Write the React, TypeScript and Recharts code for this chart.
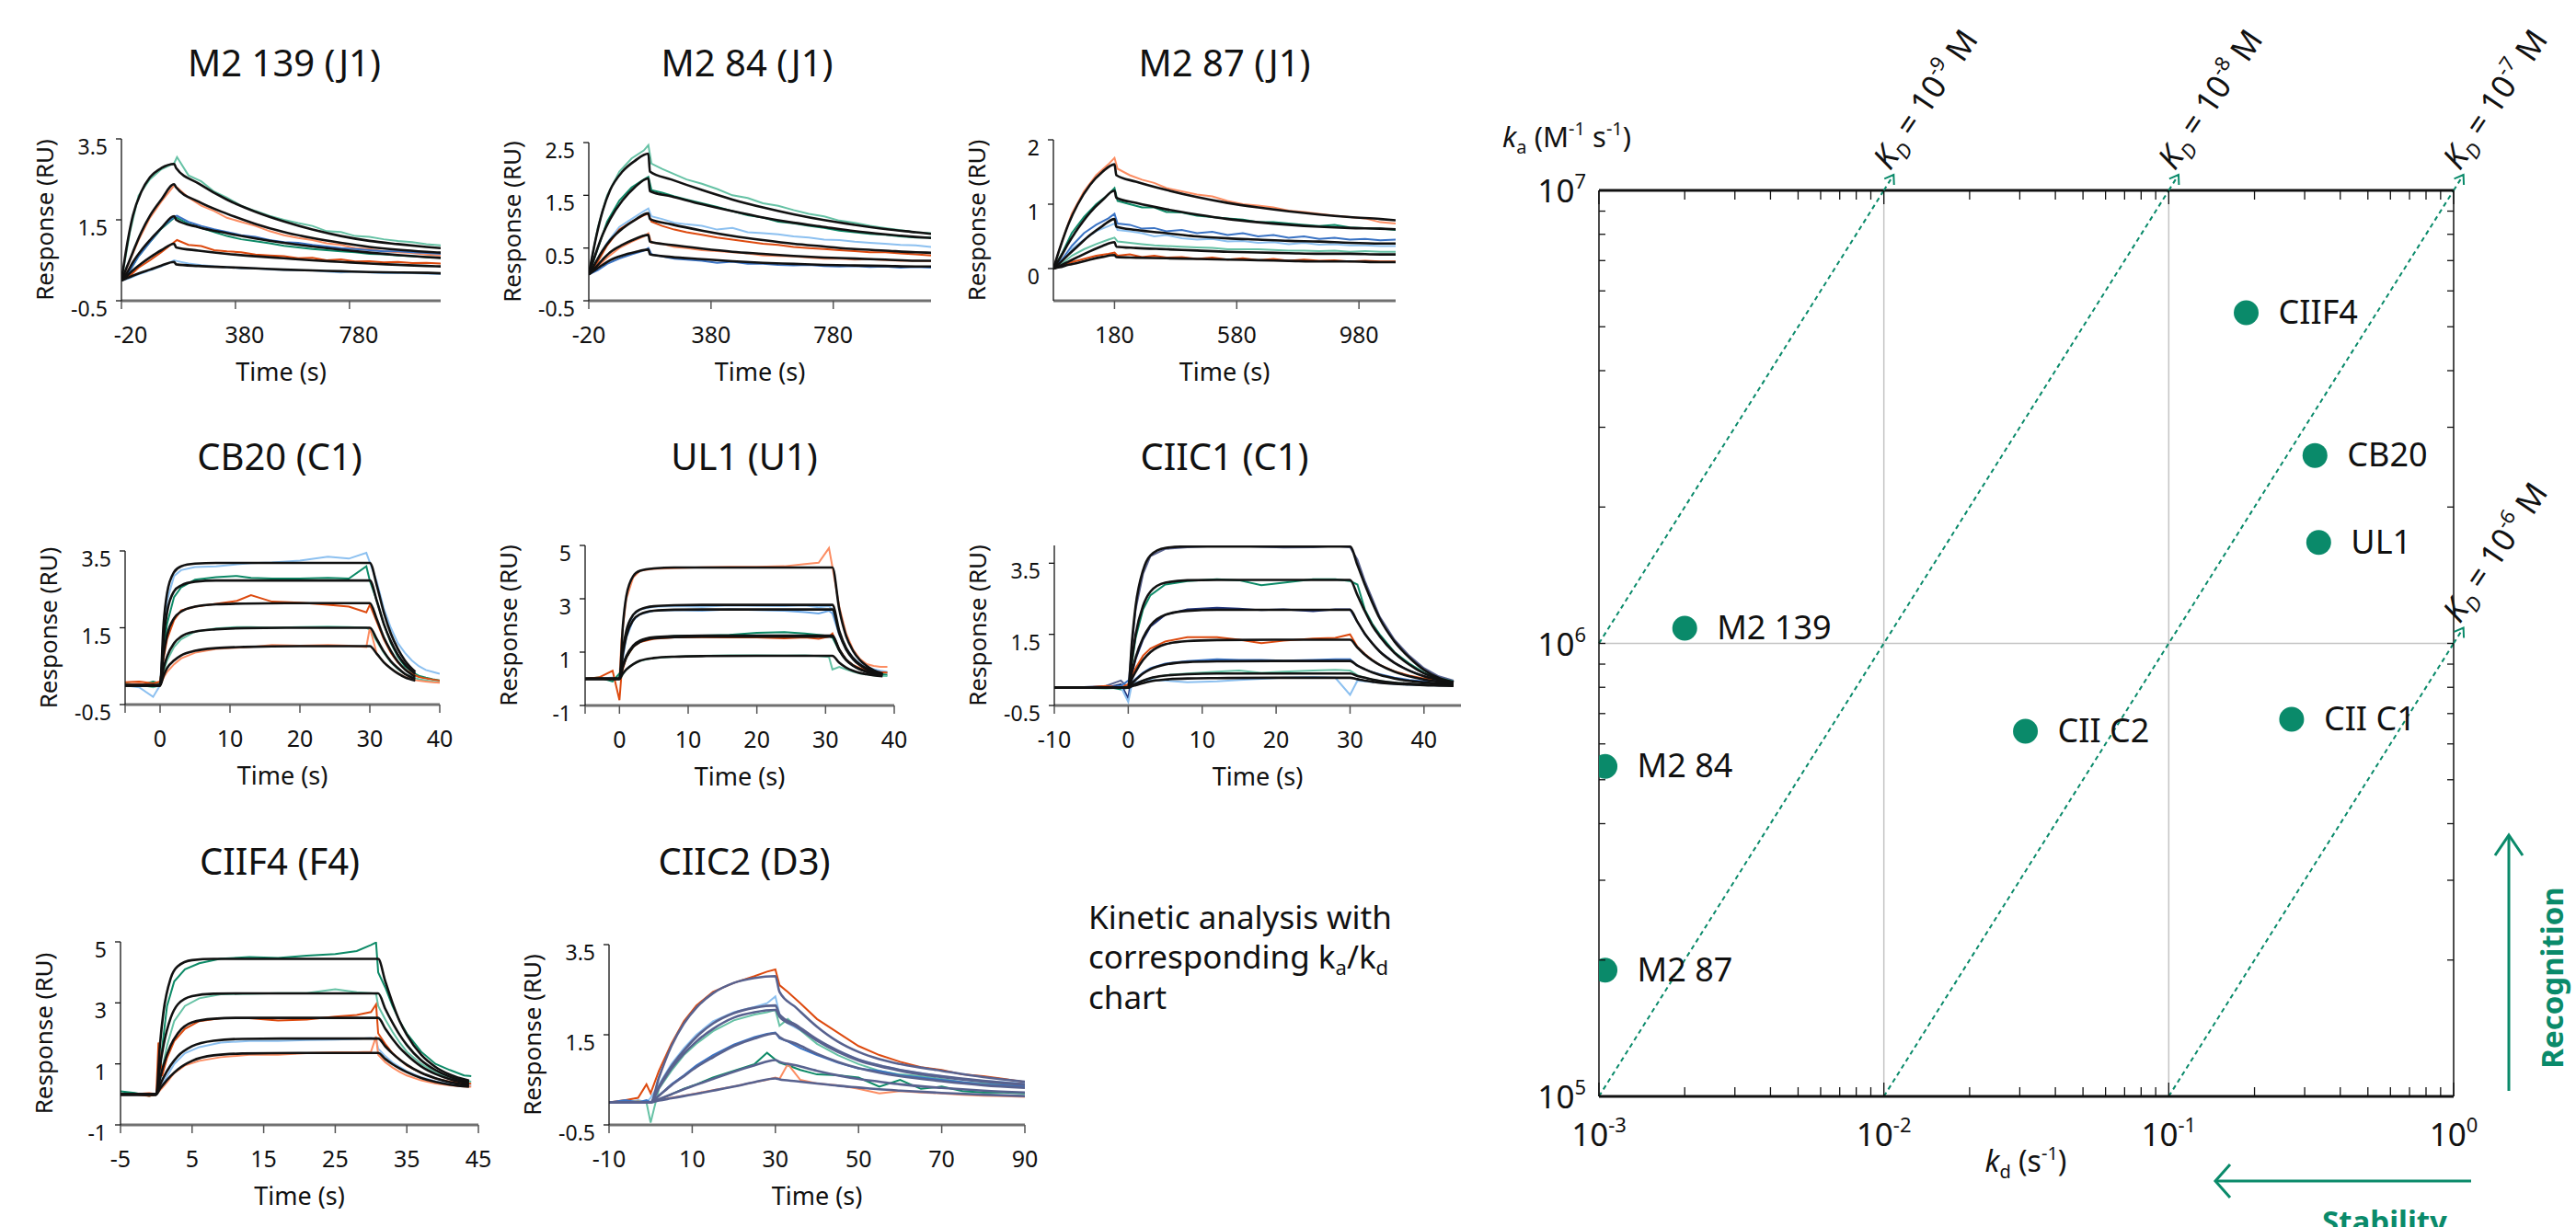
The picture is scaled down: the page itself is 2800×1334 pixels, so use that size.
import React from 'react';
import { LineChart, Line, XAxis, YAxis, ScatterChart, Scatter, ReferenceLine, ReferenceDot } from 'recharts';

const FONT = "'Noto Sans', sans-serif";
const INK = '#111';
const KGREEN = '#0a8a6a';
const TEAL = '#66c2a5';
const SALMON = '#fc8d62';
const BLUE = '#3a73c4';
const GREEN = '#0d8a67';
const ORANGE = '#dd4a0f';
const LIGHTBLUE = '#8cc0f0';
const SLATE = '#58628f';
const NAVY = '#22357a';

// ---------- M2 139 (J1)
const m2139FitTime = [-20, 0, 20, 50, 80, 120, 165, 172, 250, 350, 450, 550, 650, 750, 850, 950, 1050, 1100];
const m2139Fits = [
  [0, 0.9, 1.6, 2.2, 2.55, 2.78, 2.88, 2.78, 2.4, 2.0, 1.7, 1.46, 1.26, 1.1, 0.98, 0.9, 0.83, 0.8],
  [0, 0.35, 0.7, 1.2, 1.6, 2.0, 2.38, 2.3, 1.95, 1.65, 1.4, 1.2, 1.05, 0.93, 0.83, 0.76, 0.71, 0.69],
  [0, 0.2, 0.45, 0.75, 1.0, 1.3, 1.59, 1.5, 1.32, 1.17, 1.04, 0.93, 0.84, 0.76, 0.69, 0.63, 0.58, 0.56],
  [0, 0.12, 0.25, 0.42, 0.57, 0.75, 0.91, 0.82, 0.74, 0.66, 0.6, 0.55, 0.5, 0.46, 0.42, 0.39, 0.36, 0.35],
  [0, 0.06, 0.12, 0.2, 0.27, 0.37, 0.46, 0.4, 0.36, 0.33, 0.3, 0.27, 0.25, 0.23, 0.21, 0.2, 0.19, 0.18],
];
const m2139ObsTime = [-20, 10, 40, 80, 120, 165, 175, 215, 260, 305, 350, 400, 450, 500, 550, 600, 650, 700, 750, 800, 850, 900, 950, 1000, 1050, 1100];
const m2139Teal = [0, 1.2, 2.1, 2.5, 2.75, 2.9, 3.05, 2.6, 2.45, 2.2, 2.05, 1.85, 1.72, 1.6, 1.5, 1.42, 1.35, 1.22, 1.2, 1.1, 1.08, 1.02, 0.98, 0.95, 0.9, 0.87];
const m2139Salmon = [0, 0.5, 1.0, 1.55, 1.95, 2.35, 2.3, 2.05, 1.85, 1.72, 1.55, 1.45, 1.35, 1.22, 1.12, 1.05, 1.0, 0.92, 0.88, 0.8, 0.78, 0.72, 0.7, 0.68, 0.64, 0.62];
const m2139Blue = [0, 0.25, 0.6, 0.95, 1.3, 1.58, 1.6, 1.45, 1.35, 1.27, 1.2, 1.12, 1.08, 1.0, 0.95, 0.93, 0.88, 0.84, 0.8, 0.78, 0.75, 0.72, 0.72, 0.7, 0.68, 0.66];
const m2139Green = [0, 0.25, 0.6, 0.95, 1.28, 1.55, 1.55, 1.4, 1.3, 1.2, 1.1, 1.02, 0.97, 0.92, 0.86, 0.82, 0.78, 0.75, 0.72, 0.7, 0.66, 0.65, 0.62, 0.6, 0.58, 0.56];
const m2139Orange = [0, 0.12, 0.32, 0.5, 0.7, 0.95, 1.0, 0.88, 0.85, 0.75, 0.72, 0.7, 0.64, 0.62, 0.6, 0.55, 0.56, 0.5, 0.52, 0.47, 0.48, 0.45, 0.46, 0.43, 0.44, 0.42];
const m2139LightBlue = [0, 0.06, 0.15, 0.25, 0.35, 0.5, 0.48, 0.42, 0.38, 0.35, 0.33, 0.3, 0.3, 0.27, 0.26, 0.25, 0.25, 0.22, 0.2, 0.22, 0.2, 0.18, 0.19, 0.18, 0.17, 0.16];

// ---------- M2 84 (J1)
const m284FitTime = [-20, 0, 25, 50, 90, 130, 175, 180, 250, 350, 450, 550, 650, 750, 850, 950, 1050, 1100];
const m284Fits = [
  [0, 0.6, 1.2, 1.6, 1.95, 2.15, 2.29, 1.95, 1.8, 1.6, 1.42, 1.27, 1.14, 1.03, 0.94, 0.86, 0.8, 0.77],
  [0, 0.35, 0.75, 1.05, 1.4, 1.65, 1.82, 1.58, 1.48, 1.33, 1.2, 1.08, 0.98, 0.9, 0.82, 0.76, 0.71, 0.69],
  [0, 0.2, 0.45, 0.65, 0.87, 1.03, 1.16, 1.05, 0.95, 0.83, 0.73, 0.65, 0.58, 0.53, 0.48, 0.45, 0.42, 0.41],
  [0, 0.12, 0.28, 0.42, 0.56, 0.67, 0.75, 0.62, 0.56, 0.49, 0.43, 0.39, 0.35, 0.32, 0.3, 0.28, 0.26, 0.26],
  [0, 0.08, 0.18, 0.27, 0.36, 0.42, 0.47, 0.38, 0.33, 0.29, 0.25, 0.22, 0.2, 0.18, 0.17, 0.16, 0.15, 0.15],
];
const m284ObsTime = [-20, 10, 40, 80, 120, 160, 175, 185, 220, 260, 300, 350, 400, 450, 500, 550, 600, 650, 700, 750, 800, 850, 900, 950, 1000, 1050, 1100];
const m284Teal = [0, 0.9, 1.5, 1.95, 2.2, 2.35, 2.45, 2.1, 2.0, 1.9, 1.8, 1.72, 1.62, 1.5, 1.45, 1.35, 1.3, 1.22, 1.15, 1.1, 1.02, 0.98, 0.92, 0.88, 0.84, 0.8, 0.78];
const m284Green = [0, 0.5, 1.0, 1.4, 1.65, 1.8, 1.85, 1.6, 1.55, 1.48, 1.42, 1.35, 1.28, 1.2, 1.12, 1.08, 1.0, 0.97, 0.92, 0.88, 0.83, 0.8, 0.77, 0.75, 0.72, 0.7, 0.7];
const m284LightBlue = [0, 0.3, 0.6, 0.9, 1.05, 1.2, 1.25, 1.1, 1.05, 0.98, 0.95, 0.92, 0.85, 0.88, 0.8, 0.78, 0.76, 0.72, 0.7, 0.66, 0.65, 0.62, 0.6, 0.58, 0.56, 0.55, 0.52];
const m284Orange = [0, 0.25, 0.55, 0.85, 1.0, 1.12, 1.15, 1.0, 0.92, 0.85, 0.8, 0.75, 0.7, 0.66, 0.62, 0.58, 0.56, 0.52, 0.5, 0.48, 0.46, 0.44, 0.42, 0.42, 0.4, 0.38, 0.36];
const m284Salmon = [0, 0.15, 0.32, 0.5, 0.62, 0.72, 0.78, 0.6, 0.58, 0.52, 0.5, 0.46, 0.44, 0.42, 0.4, 0.36, 0.35, 0.34, 0.32, 0.3, 0.3, 0.28, 0.29, 0.27, 0.26, 0.26, 0.25];
const m284Blue = [0, 0.08, 0.2, 0.3, 0.38, 0.45, 0.5, 0.38, 0.34, 0.3, 0.28, 0.26, 0.22, 0.24, 0.2, 0.2, 0.18, 0.17, 0.18, 0.16, 0.15, 0.16, 0.14, 0.15, 0.13, 0.14, 0.13];

// ---------- M2 87 (J1)
const m287FitTime = [-20, 0, 30, 60, 100, 140, 180, 186, 250, 350, 450, 550, 650, 750, 850, 950, 1050, 1100];
const m287Fits = [
  [0, 0.3, 0.7, 1.0, 1.3, 1.5, 1.62, 1.45, 1.35, 1.22, 1.11, 1.02, 0.95, 0.89, 0.84, 0.8, 0.77, 0.75],
  [0, 0.15, 0.4, 0.62, 0.87, 1.06, 1.21, 1.1, 1.02, 0.92, 0.84, 0.77, 0.72, 0.68, 0.65, 0.63, 0.62, 0.61],
  [0, 0.08, 0.22, 0.35, 0.52, 0.66, 0.77, 0.65, 0.6, 0.55, 0.5, 0.47, 0.45, 0.43, 0.42, 0.4, 0.39, 0.39],
  [0, 0.04, 0.11, 0.18, 0.27, 0.35, 0.41, 0.34, 0.32, 0.3, 0.28, 0.26, 0.25, 0.24, 0.23, 0.23, 0.22, 0.22],
  [0, 0.02, 0.06, 0.09, 0.14, 0.18, 0.21, 0.18, 0.17, 0.16, 0.15, 0.14, 0.13, 0.12, 0.11, 0.11, 0.1, 0.1],
];
const m287ObsTime = [-20, 10, 40, 80, 120, 160, 180, 190, 230, 270, 310, 350, 400, 450, 500, 550, 600, 650, 700, 750, 800, 850, 900, 950, 1000, 1050, 1100];
const m287Salmon = [0, 0.45, 0.85, 1.2, 1.45, 1.62, 1.72, 1.55, 1.45, 1.38, 1.33, 1.25, 1.2, 1.15, 1.12, 1.05, 1.0, 0.98, 0.95, 0.9, 0.88, 0.85, 0.82, 0.8, 0.78, 0.72, 0.7];
const m287Green = [0, 0.25, 0.55, 0.8, 1.0, 1.15, 1.25, 1.05, 1.0, 0.95, 0.95, 0.88, 0.87, 0.82, 0.8, 0.78, 0.76, 0.72, 0.72, 0.7, 0.68, 0.66, 0.68, 0.64, 0.63, 0.62, 0.6];
const m287Blue = [0, 0.15, 0.35, 0.55, 0.68, 0.78, 0.85, 0.7, 0.68, 0.62, 0.63, 0.58, 0.6, 0.55, 0.57, 0.52, 0.55, 0.5, 0.52, 0.48, 0.5, 0.46, 0.48, 0.45, 0.46, 0.44, 0.45];
const m287LightBlue = [0, 0.12, 0.3, 0.45, 0.58, 0.66, 0.7, 0.6, 0.58, 0.55, 0.5, 0.52, 0.47, 0.45, 0.46, 0.42, 0.43, 0.4, 0.41, 0.38, 0.4, 0.37, 0.38, 0.36, 0.36, 0.35, 0.35];
const m287Teal = [0, 0.08, 0.2, 0.3, 0.38, 0.45, 0.48, 0.42, 0.4, 0.38, 0.36, 0.35, 0.34, 0.33, 0.32, 0.3, 0.3, 0.3, 0.29, 0.28, 0.28, 0.27, 0.28, 0.26, 0.27, 0.26, 0.26];
const m287Orange = [0, 0.04, 0.1, 0.15, 0.2, 0.23, 0.25, 0.2, 0.22, 0.18, 0.2, 0.17, 0.18, 0.15, 0.17, 0.14, 0.16, 0.13, 0.15, 0.12, 0.14, 0.12, 0.13, 0.11, 0.12, 0.11, 0.11];

// ---------- CB20 (C1)
const cb20FitTime = [-5, 0, 0.5, 1, 2, 3, 5, 8, 12, 20, 30, 31, 32, 33, 34, 35, 36.5];
const cb20Fits = [
  [0, 0, 1.6, 2.4, 2.95, 3.1, 3.17, 3.19, 3.19, 3.19, 3.19, 2.6, 1.9, 1.35, 0.95, 0.65, 0.35],
  [0, 0, 1.2, 1.9, 2.45, 2.6, 2.7, 2.73, 2.73, 2.73, 2.73, 2.2, 1.6, 1.15, 0.8, 0.55, 0.3],
  [0, 0, 0.8, 1.3, 1.75, 1.92, 2.05, 2.11, 2.13, 2.14, 2.14, 1.72, 1.25, 0.9, 0.62, 0.42, 0.22],
  [0, 0, 0.45, 0.75, 1.1, 1.27, 1.4, 1.46, 1.49, 1.5, 1.5, 1.2, 0.88, 0.63, 0.45, 0.3, 0.17],
  [0, 0, 0.25, 0.45, 0.65, 0.78, 0.9, 0.97, 1.0, 1.02, 1.02, 0.82, 0.6, 0.44, 0.31, 0.21, 0.12],
];
const cb20ObsTime = [-5, -3, -1, 0, 0.5, 1, 2, 3, 5, 8, 11, 13, 16, 20, 24, 27, 29.5, 30, 31, 32, 33, 34, 35, 36, 37, 38, 39, 40];
const cb20LightBlue = [0.0, -0.05, -0.3, 0.0, 1.3, 2.2, 2.85, 3.0, 3.08, 3.1, 3.15, 3.18, 3.2, 3.25, 3.35, 3.3, 3.45, 3.2, 2.7, 2.0, 1.5, 1.1, 0.85, 0.65, 0.5, 0.4, 0.35, 0.3];
const cb20Green = [0.05, 0.0, 0.1, 0.05, 0.9, 1.6, 2.3, 2.55, 2.75, 2.82, 2.85, 2.8, 2.78, 2.78, 2.8, 2.78, 3.1, 2.72, 2.2, 1.6, 1.1, 0.75, 0.5, 0.35, 0.25, 0.2, 0.16, 0.13];
const cb20Orange = [0.08, 0.1, 0.05, 0.1, 0.7, 1.2, 1.7, 1.95, 2.05, 2.12, 2.2, 2.35, 2.18, 2.15, 2.1, 2.05, 1.9, 2.1, 1.65, 1.2, 0.85, 0.6, 0.42, 0.3, 0.22, 0.18, 0.15, 0.12];
const cb20Teal = [0.0, 0.02, -0.05, 0.0, 0.35, 0.65, 1.0, 1.2, 1.4, 1.48, 1.52, 1.52, 1.5, 1.52, 1.53, 1.52, 1.5, 1.45, 1.15, 0.85, 0.6, 0.42, 0.3, 0.22, 0.16, 0.13, 0.1, 0.08];
const cb20Salmon = [0.02, 0.05, 0.0, 0.0, 0.2, 0.35, 0.55, 0.7, 0.85, 0.95, 0.98, 1.0, 1.05, 1.03, 1.05, 1.03, 1.0, 1.5, 0.82, 0.6, 0.44, 0.32, 0.22, 0.16, 0.12, 0.1, 0.08, 0.07];

// ---------- UL1 (U1)
const ul1FitTime = [-5, 0, 0.5, 1, 2, 3, 5, 8, 12, 20, 31, 32, 33, 34, 35, 36, 37, 38.3];
const ul1Fits = [
  [0, 0, 2.0, 3.1, 3.85, 4.05, 4.14, 4.17, 4.17, 4.17, 4.17, 2.6, 1.6, 1.05, 0.7, 0.48, 0.32, 0.2],
  [0, 0, 1.1, 1.8, 2.4, 2.6, 2.72, 2.76, 2.77, 2.77, 2.77, 1.8, 1.15, 0.78, 0.54, 0.38, 0.27, 0.18],
  [0, 0, 0.95, 1.6, 2.2, 2.42, 2.55, 2.59, 2.6, 2.6, 2.6, 1.7, 1.1, 0.74, 0.51, 0.36, 0.26, 0.17],
  [0, 0, 0.5, 0.85, 1.25, 1.43, 1.56, 1.6, 1.62, 1.62, 1.62, 1.1, 0.72, 0.5, 0.36, 0.27, 0.2, 0.15],
  [0, 0, 0.45, 0.8, 1.2, 1.38, 1.52, 1.56, 1.58, 1.58, 1.58, 1.07, 0.7, 0.49, 0.35, 0.26, 0.19, 0.14],
  [0, 0, 0.2, 0.35, 0.55, 0.68, 0.78, 0.83, 0.85, 0.86, 0.86, 0.6, 0.42, 0.3, 0.22, 0.17, 0.13, 0.1],
];
const ul1ObsTime = [-5, -3, -1, 0, 0.3, 1, 2, 3, 5, 8, 12, 16, 20, 24, 27, 29, 30.5, 31, 32, 33, 34, 35, 36, 37, 38, 39];
const ul1Salmon = [0.0, 0.02, 0.0, 0.0, 1.5, 3.0, 3.8, 4.05, 4.12, 4.15, 4.18, 4.2, 4.2, 4.22, 4.3, 4.35, 4.9, 4.2, 2.7, 1.7, 1.1, 0.75, 0.55, 0.48, 0.45, 0.45];
const ul1LightBlue = [0.0, 0.0, 0.05, 0.0, 0.6, 1.75, 2.4, 2.6, 2.7, 2.72, 2.7, 2.75, 2.73, 2.72, 2.75, 2.68, 2.72, 2.6, 1.75, 1.15, 0.8, 0.58, 0.44, 0.36, 0.3, 0.26];
const ul1Blue = [0.0, 0.02, 0.0, 0.0, 0.5, 1.55, 2.2, 2.42, 2.55, 2.58, 2.55, 2.6, 2.58, 2.55, 2.5, 2.45, 2.55, 2.45, 1.65, 1.1, 0.75, 0.52, 0.4, 0.32, 0.26, 0.22];
const ul1Green = [0.0, 0.05, -0.1, 0.2, 0.3, 0.8, 1.2, 1.4, 1.55, 1.6, 1.62, 1.65, 1.72, 1.75, 1.7, 1.65, 1.6, 1.55, 1.05, 0.7, 0.5, 0.36, 0.28, 0.22, 0.18, 0.15];
const ul1Orange = [0.0, 0.05, 0.3, -0.8, 0.2, 0.8, 1.2, 1.38, 1.5, 1.55, 1.56, 1.55, 1.55, 1.52, 1.55, 1.5, 1.58, 1.7, 1.1, 0.72, 0.52, 0.4, 0.32, 0.28, 0.25, 0.23];
const ul1Teal = [0.0, 0.0, 0.0, 0.0, 0.1, 0.35, 0.55, 0.67, 0.78, 0.83, 0.86, 0.88, 0.88, 0.87, 0.88, 0.85, 0.82, 0.35, 0.45, 0.35, 0.27, 0.2, 0.16, 0.13, 0.11, 0.1];

// ---------- CIIC1 (C1)
const ciic1FitTime = [-10, 0, 0.5, 1, 2, 3, 5, 8, 12, 20, 30, 31, 32, 33, 34, 36, 38, 40, 42, 44];
const ciic1Fits = [
  [0, 0, 1.3, 2.3, 3.3, 3.72, 3.93, 3.97, 3.97, 3.97, 3.97, 3.45, 2.9, 2.4, 1.95, 1.3, 0.85, 0.5, 0.28, 0.15],
  [0, 0, 0.8, 1.5, 2.3, 2.7, 2.95, 3.02, 3.03, 3.03, 3.03, 2.6, 2.15, 1.75, 1.45, 0.98, 0.65, 0.4, 0.25, 0.15],
  [0, 0, 0.45, 0.85, 1.4, 1.75, 2.05, 2.16, 2.19, 2.19, 2.19, 1.85, 1.52, 1.25, 1.02, 0.7, 0.48, 0.32, 0.22, 0.15],
  [0, 0, 0.25, 0.45, 0.78, 1.0, 1.22, 1.31, 1.34, 1.35, 1.35, 1.13, 0.93, 0.77, 0.64, 0.45, 0.32, 0.23, 0.17, 0.12],
  [0, 0, 0.12, 0.22, 0.4, 0.52, 0.65, 0.72, 0.74, 0.75, 0.75, 0.62, 0.52, 0.43, 0.36, 0.26, 0.19, 0.15, 0.12, 0.1],
  [0, 0, 0.06, 0.11, 0.2, 0.27, 0.34, 0.38, 0.4, 0.4, 0.4, 0.33, 0.28, 0.23, 0.19, 0.14, 0.11, 0.09, 0.08, 0.07],
  [0, 0, 0.04, 0.07, 0.13, 0.18, 0.23, 0.26, 0.27, 0.28, 0.28, 0.24, 0.2, 0.17, 0.14, 0.11, 0.09, 0.07, 0.06, 0.05],
];
const ciic1ObsTime = [-10, -6, -3, -1, 0, 0.5, 1, 2, 3, 5, 8, 12, 15, 18, 21, 25, 28, 30, 31, 32, 33, 34, 36, 38, 40, 42, 44];
const ciic1Slate = [0, 0.02, 0.05, 0.2, 0.0, 1.2, 2.2, 3.2, 3.7, 3.9, 3.95, 3.99, 3.99, 3.96, 3.94, 3.95, 3.99, 3.95, 3.6, 3.0, 2.5, 2.0, 1.35, 0.9, 0.55, 0.32, 0.2];
const ciic1Green = [0, 0.0, 0.03, -0.05, 0.0, 0.7, 1.4, 2.2, 2.6, 2.9, 3.0, 3.05, 3.02, 2.88, 2.95, 3.05, 3.05, 3.0, 2.9, 2.2, 1.8, 1.5, 1.0, 0.68, 0.42, 0.27, 0.17];
const ciic1Navy = [0, 0.02, 0.0, 0.1, -0.3, 0.4, 0.8, 1.35, 1.72, 2.05, 2.2, 2.25, 2.22, 2.18, 2.2, 2.15, 2.2, 2.2, 1.85, 1.5, 1.25, 1.02, 0.7, 0.48, 0.32, 0.22, 0.15];
const ciic1Orange = [0, 0.0, 0.05, 0.0, 0.1, 0.3, 0.55, 0.9, 1.1, 1.3, 1.42, 1.42, 1.35, 1.25, 1.32, 1.38, 1.4, 1.5, 1.15, 0.95, 0.78, 0.64, 0.46, 0.34, 0.26, 0.2, 0.16];
const ciic1Blue = [0, 0.02, 0.0, 0.05, 0.2, 0.15, 0.25, 0.42, 0.55, 0.68, 0.75, 0.8, 0.78, 0.78, 0.76, 0.78, 0.8, 0.8, 0.62, 0.52, 0.44, 0.38, 0.28, 0.22, 0.18, 0.2, 0.12];
const ciic1Teal = [0, 0.0, -0.02, 0.0, 0.0, 0.05, 0.1, 0.2, 0.27, 0.35, 0.4, 0.45, 0.48, 0.42, 0.45, 0.48, 0.5, 0.48, 0.35, 0.28, 0.23, 0.19, 0.14, 0.11, 0.09, 0.08, 0.07];
const ciic1LightBlue = [0, 0.02, 0.0, 0.02, -0.4, 0.1, 0.15, 0.2, 0.22, 0.2, 0.15, 0.18, 0.22, 0.25, 0.28, 0.3, 0.28, -0.2, 0.2, 0.18, 0.16, 0.14, 0.1, 0.08, 0.07, 0.06, 0.06];

// ---------- CIIF4 (F4)
const ciif4FitTime = [-5, 0, 0.5, 1, 2, 3, 5, 8, 12, 20, 31, 32, 33, 34, 35, 37, 39, 41, 43.7];
const ciif4Fits = [
  [0, 0, 1.6, 2.7, 3.8, 4.2, 4.4, 4.44, 4.44, 4.44, 4.44, 3.7, 3.0, 2.4, 1.95, 1.3, 0.9, 0.65, 0.45],
  [0, 0, 0.9, 1.6, 2.5, 2.95, 3.22, 3.3, 3.31, 3.31, 3.31, 2.8, 2.35, 1.95, 1.62, 1.12, 0.8, 0.58, 0.4],
  [0, 0, 0.5, 0.95, 1.6, 2.0, 2.36, 2.48, 2.51, 2.51, 2.51, 2.15, 1.82, 1.53, 1.3, 0.92, 0.67, 0.5, 0.35],
  [0, 0, 0.3, 0.55, 0.95, 1.25, 1.58, 1.76, 1.82, 1.83, 1.83, 1.57, 1.34, 1.14, 0.97, 0.71, 0.53, 0.4, 0.3],
  [0, 0, 0.18, 0.33, 0.6, 0.82, 1.1, 1.28, 1.34, 1.36, 1.36, 1.16, 0.99, 0.85, 0.73, 0.54, 0.41, 0.32, 0.25],
];
const ciif4ObsTime = [-5, -3, -1, 0, 0.3, 0.8, 1.5, 2.5, 4, 6, 9, 13, 17, 21, 25, 28, 30, 30.7, 31, 32, 33, 34, 35, 37, 39, 41, 43, 44];
const ciif4Green = [0.1, 0.05, -0.05, 0.0, 0.4, 1.5, 2.9, 3.7, 4.1, 4.3, 4.45, 4.5, 4.47, 4.55, 4.6, 4.7, 4.9, 4.98, 4.0, 3.5, 2.9, 2.4, 2.0, 1.4, 1.0, 0.8, 0.62, 0.6];
const ciif4Teal = [0.0, 0.02, 0.0, 0.0, 0.2, 0.8, 1.6, 2.4, 2.9, 3.15, 3.28, 3.3, 3.32, 3.32, 3.45, 3.35, 3.32, 3.3, 2.9, 2.45, 2.05, 1.7, 1.4, 1.0, 0.72, 0.55, 0.45, 0.42];
const ciif4Orange = [0.0, 0.0, -0.05, 0.0, 1.7, 0.6, 1.2, 1.75, 2.15, 2.4, 2.5, 2.5, 2.42, 2.45, 2.55, 2.6, 2.7, 2.95, 2.0, 1.65, 1.35, 1.15, 0.95, 0.7, 0.52, 0.42, 0.36, 0.35];
const ciif4LightBlue = [0.0, 0.0, 0.02, 0.0, 0.1, 0.3, 0.6, 1.0, 1.35, 1.55, 1.7, 1.75, 1.75, 1.78, 1.8, 1.82, 1.85, 1.8, 1.5, 1.25, 1.05, 0.9, 0.76, 0.56, 0.43, 0.35, 0.3, 0.28];
const ciif4Salmon = [0.02, 0.0, 0.05, 0.0, 0.08, 0.2, 0.4, 0.7, 0.95, 1.1, 1.22, 1.3, 1.3, 1.35, 1.38, 1.38, 1.4, 1.9, 1.3, 1.05, 0.88, 0.74, 0.62, 0.46, 0.36, 0.3, 0.26, 0.25];

// ---------- CIIC2 (D3)
const ciic2FitTime = [-10, 0, 2, 5, 8, 11, 15, 20, 25, 30, 31, 35, 40, 45, 50, 55, 60, 70, 80, 90];
const ciic2Fits = [
  [0, 0, 0.55, 1.25, 1.75, 2.1, 2.42, 2.65, 2.76, 2.8, 2.45, 2.1, 1.68, 1.35, 1.12, 0.96, 0.85, 0.7, 0.56, 0.46],
  [0, 0, 0.35, 0.8, 1.15, 1.45, 1.75, 1.98, 2.1, 2.15, 1.95, 1.72, 1.4, 1.15, 0.95, 0.82, 0.72, 0.58, 0.48, 0.4],
  [0, 0, 0.32, 0.75, 1.08, 1.35, 1.63, 1.88, 2.0, 2.05, 1.9, 1.68, 1.37, 1.12, 0.93, 0.8, 0.7, 0.56, 0.46, 0.39],
  [0, 0, 0.15, 0.38, 0.58, 0.78, 1.0, 1.25, 1.42, 1.53, 1.45, 1.3, 1.08, 0.9, 0.76, 0.66, 0.58, 0.47, 0.38, 0.32],
  [0, 0, 0.07, 0.18, 0.29, 0.39, 0.52, 0.68, 0.82, 0.94, 0.9, 0.82, 0.7, 0.6, 0.52, 0.46, 0.4, 0.32, 0.26, 0.22],
  [0, 0, 0.04, 0.09, 0.14, 0.19, 0.26, 0.35, 0.45, 0.53, 0.51, 0.47, 0.42, 0.37, 0.33, 0.29, 0.26, 0.21, 0.17, 0.14],
];
const ciic2ObsTime = [-10, -6, -3, -1, 0, 2, 5, 8, 11, 15, 20, 25, 28, 30, 31, 33, 36, 40, 45, 50, 55, 60, 65, 70, 75, 80, 85, 90];
const ciic2Orange = [0.0, 0.05, 0.1, 0.4, 0.2, 0.7, 1.3, 1.8, 2.15, 2.45, 2.65, 2.8, 2.9, 2.95, 2.6, 2.45, 2.2, 1.85, 1.55, 1.25, 1.05, 0.9, 0.78, 0.72, 0.62, 0.58, 0.52, 0.45];
const ciic2LightBlue = [0.0, 0.0, 0.05, 0.0, 0.1, 0.4, 0.85, 1.2, 1.5, 1.8, 2.0, 2.12, 2.2, 2.35, 1.95, 1.75, 1.6, 1.38, 1.15, 0.95, 0.82, 0.72, 0.65, 0.58, 0.52, 0.48, 0.45, 0.42];
const ciic2Teal = [0.0, 0.0, 0.0, 0.0, -0.45, 0.3, 0.7, 1.05, 1.3, 1.58, 1.82, 1.95, 2.0, 2.05, 1.7, 1.85, 1.6, 1.3, 1.05, 0.85, 0.7, 0.62, 0.58, 0.52, 0.45, 0.42, 0.4, 0.38];
const ciic2Blue = [0.0, 0.05, 0.0, 0.05, 0.0, 0.15, 0.4, 0.6, 0.82, 1.05, 1.28, 1.45, 1.52, 1.55, 1.42, 1.35, 1.2, 1.05, 0.88, 0.75, 0.7, 0.6, 0.55, 0.5, 0.45, 0.4, 0.38, 0.35];
const ciic2Green = [0.0, 0.0, 0.02, 0.0, 0.0, 0.06, 0.18, 0.3, 0.4, 0.55, 0.7, 0.85, 1.1, 0.95, 0.88, 0.82, 0.72, 0.62, 0.6, 0.55, 0.35, 0.5, 0.3, 0.35, 0.25, 0.22, 0.22, 0.2];
const ciic2Salmon = [0.0, 0.0, 0.02, 0.0, 0.0, 0.05, 0.1, 0.15, 0.2, 0.27, 0.35, 0.45, 0.5, 0.55, 0.52, 0.85, 0.5, 0.42, 0.38, 0.3, 0.2, 0.25, 0.22, 0.2, 0.17, 0.15, 0.14, 0.12];

// ---------- ka / kd chart
const kinNames = ['M2 139', 'M2 84', 'M2 87', 'CII C2', 'CII C1', 'CIIF4', 'CB20', 'UL1'];
const kdValues = [0.002, 0.00105, 0.00105, 0.0314, 0.27, 0.187, 0.326, 0.336];
const kaValues = [1.08e6, 5.35e5, 1.9e5, 6.4e5, 6.8e5, 5.37e6, 2.6e6, 1.67e6];
const kdTicks = [0.001, 0.002, 0.003, 0.004, 0.005, 0.006, 0.007, 0.008, 0.009, 0.01, 0.02, 0.03, 0.04, 0.05, 0.06, 0.07, 0.08, 0.09, 0.1, 0.2, 0.3, 0.4, 0.5, 0.6, 0.7, 0.8, 0.9, 1];
const kaTicks = [1e5, 2e5, 3e5, 4e5, 5e5, 6e5, 7e5, 8e5, 9e5, 1e6, 2e6, 3e6, 4e6, 5e6, 6e6, 7e6, 8e6, 9e6, 1e7];
const kdConstants = [1e-9, 1e-8, 1e-7, 1e-6];
const kdConstantLabels = ['-9', '-8', '-7', '-6'];
const KD_MIN = 0.001, KD_MAX = 1, KA_MIN = 1e5, KA_MAX = 1e7;

type Obs = { color: string; values: number[] };
type PanelCfg = {
  title: string; titleX: number; titleY: number;
  left: number; top: number; width: number; height: number;
  xDomain: [number, number]; xTicks: number[]; blankTicks?: number[]; labelShift?: number;
  yDomain: [number, number]; yTicks: number[];
  fitTime: number[]; fits: number[][]; fitColor?: string;
  obsTime: number[]; obs: Obs[];
};

const panels: PanelCfg[] = [
  {
    title: 'M2 139 (J1)', titleX: 309, titleY: 67, left: 132, top: 151, width: 347, height: 176,
    xDomain: [-20, 1100], xTicks: [-20, 380, 780], labelShift: 10, yDomain: [-0.5, 3.5], yTicks: [-0.5, 1.5, 3.5],
    fitTime: m2139FitTime, fits: m2139Fits, obsTime: m2139ObsTime,
    obs: [
      { color: TEAL, values: m2139Teal }, { color: SALMON, values: m2139Salmon }, { color: GREEN, values: m2139Green },
      { color: BLUE, values: m2139Blue }, { color: ORANGE, values: m2139Orange }, { color: LIGHTBLUE, values: m2139LightBlue },
    ],
  },
  {
    title: 'M2 84 (J1)', titleX: 812, titleY: 67, left: 640, top: 155, width: 372, height: 172,
    xDomain: [-20, 1100], xTicks: [-20, 380, 780], yDomain: [-0.5, 2.5], yTicks: [-0.5, 0.5, 1.5, 2.5],
    fitTime: m284FitTime, fits: m284Fits, obsTime: m284ObsTime,
    obs: [
      { color: TEAL, values: m284Teal }, { color: GREEN, values: m284Green }, { color: LIGHTBLUE, values: m284LightBlue },
      { color: ORANGE, values: m284Orange }, { color: SALMON, values: m284Salmon }, { color: BLUE, values: m284Blue },
    ],
  },
  {
    title: 'M2 87 (J1)', titleX: 1331, titleY: 67, left: 1145, top: 152, width: 372, height: 175,
    xDomain: [-20, 1100], xTicks: [180, 580, 980], yDomain: [-0.5, 2], yTicks: [0, 1, 2],
    fitTime: m287FitTime, fits: m287Fits, obsTime: m287ObsTime,
    obs: [
      { color: SALMON, values: m287Salmon }, { color: GREEN, values: m287Green }, { color: BLUE, values: m287Blue },
      { color: LIGHTBLUE, values: m287LightBlue }, { color: TEAL, values: m287Teal }, { color: ORANGE, values: m287Orange },
    ],
  },
  {
    title: 'CB20 (C1)', titleX: 304, titleY: 495, left: 136, top: 599, width: 342, height: 167,
    xDomain: [-5, 40], xTicks: [-5, 0, 10, 20, 30, 40], blankTicks: [-5], yDomain: [-0.5, 3.5], yTicks: [-0.5, 1.5, 3.5],
    fitTime: cb20FitTime, fits: cb20Fits, obsTime: cb20ObsTime,
    obs: [
      { color: LIGHTBLUE, values: cb20LightBlue }, { color: GREEN, values: cb20Green }, { color: ORANGE, values: cb20Orange },
      { color: TEAL, values: cb20Teal }, { color: SALMON, values: cb20Salmon },
    ],
  },
  {
    title: 'UL1 (U1)', titleX: 809, titleY: 495, left: 636, top: 593, width: 336, height: 174,
    xDomain: [-5, 40], xTicks: [-5, 0, 10, 20, 30, 40], blankTicks: [-5], yDomain: [-1, 5], yTicks: [-1, 1, 3, 5],
    fitTime: ul1FitTime, fits: ul1Fits, obsTime: ul1ObsTime,
    obs: [
      { color: SALMON, values: ul1Salmon }, { color: LIGHTBLUE, values: ul1LightBlue }, { color: '#6aa6e6', values: ul1Blue },
      { color: GREEN, values: ul1Green }, { color: ORANGE, values: ul1Orange }, { color: TEAL, values: ul1Teal },
    ],
  },
  {
    title: 'CIIC1 (C1)', titleX: 1331, titleY: 495, left: 1146, top: 593, width: 442, height: 174,
    xDomain: [-10, 45], xTicks: [-10, 0, 10, 20, 30, 40], yDomain: [-0.5, 4], yTicks: [-0.5, 1.5, 3.5],
    fitTime: ciic1FitTime, fits: ciic1Fits, obsTime: ciic1ObsTime,
    obs: [
      { color: SLATE, values: ciic1Slate }, { color: GREEN, values: ciic1Green }, { color: NAVY, values: ciic1Navy },
      { color: ORANGE, values: ciic1Orange }, { color: BLUE, values: ciic1Blue }, { color: TEAL, values: ciic1Teal },
      { color: LIGHTBLUE, values: ciic1LightBlue },
    ],
  },
  {
    title: 'CIIF4 (F4)', titleX: 304, titleY: 935, left: 131, top: 1024, width: 389, height: 199,
    xDomain: [-5, 45], xTicks: [-5, 5, 15, 25, 35, 45], yDomain: [-1, 5], yTicks: [-1, 1, 3, 5],
    fitTime: ciif4FitTime, fits: ciif4Fits, obsTime: ciif4ObsTime,
    obs: [
      { color: GREEN, values: ciif4Green }, { color: TEAL, values: ciif4Teal }, { color: ORANGE, values: ciif4Orange },
      { color: LIGHTBLUE, values: ciif4LightBlue }, { color: SALMON, values: ciif4Salmon },
    ],
  },
  {
    title: 'CIIC2 (D3)', titleX: 809, titleY: 935, left: 662, top: 1027, width: 452, height: 196,
    xDomain: [-10, 90], xTicks: [-10, 10, 30, 50, 70, 90], yDomain: [-0.5, 3.5], yTicks: [-0.5, 1.5, 3.5],
    fitTime: ciic2FitTime, fits: ciic2Fits, fitColor: SLATE, obsTime: ciic2ObsTime,
    obs: [
      { color: ORANGE, values: ciic2Orange }, { color: LIGHTBLUE, values: ciic2LightBlue }, { color: TEAL, values: ciic2Teal },
      { color: BLUE, values: ciic2Blue }, { color: GREEN, values: ciic2Green }, { color: SALMON, values: ciic2Salmon },
    ],
  },
];

const ML = 100, MT = 12, MR = 36, MB = 70;

const toPoints = (time: number[], vals: number[]) => time.map((t, i) => ({ t, v: vals[i] }));

const YTick = (props: any) => {
  const { x, y, payload } = props;
  return (
    <text x={x} y={y + 8} textAnchor="end" dominantBaseline="central" fontSize={23} fill={INK}>
      {payload.value}
    </text>
  );
};

const makeXTick = (p: PanelCfg) => (props: any) => {
  const { x, y, payload } = props;
  const hide = p.blankTicks && p.blankTicks.includes(payload.value);
  if (hide) return <g />;
  return (
    <text x={x + (p.labelShift || 0)} y={y + 8} textAnchor="middle" dominantBaseline="central" fontSize={25} fill={INK}>
      {payload.value}
    </text>
  );
};

function Panel({ p }: { p: PanelCfg }) {
  return (
    <div style={{ position: 'absolute', left: p.left - ML, top: p.top - MT }}>
      <LineChart width={ML + p.width + MR} height={MT + p.height + MB} margin={{ top: MT, right: MR, bottom: 0, left: 0 }}>
        <XAxis
          type="number" dataKey="t" domain={p.xDomain} ticks={p.xTicks} allowDataOverflow interval={0} height={MB}
          tickSize={9} tickMargin={19} axisLine={{ stroke: '#707070', strokeWidth: 3 }} tickLine={{ stroke: '#555', strokeWidth: 1.5 }}
          tick={makeXTick(p)}
        />
        <YAxis
          type="number" domain={p.yDomain} ticks={p.yTicks} allowDataOverflow interval={0} width={ML}
          tickSize={6} tickMargin={9} axisLine={{ stroke: INK, strokeWidth: 1.3 }} tickLine={{ stroke: INK, strokeWidth: 1.3 }}
          tick={YTick}
        />
        {p.obs.map((s, i) => (
          <Line key={'o' + i} data={toPoints(p.obsTime, s.values)} dataKey="v" type="linear" stroke={s.color}
            strokeWidth={2} dot={false} isAnimationActive={false} />
        ))}
        {p.fits.map((f, i) => (
          <Line key={'f' + i} data={toPoints(p.fitTime, f)} dataKey="v" type="monotone" stroke={p.fitColor || INK}
            strokeWidth={2.6} dot={false} isAnimationActive={false} />
        ))}
      </LineChart>
    </div>
  );
}

// big chart geometry
const BIG_LEFT = 1600;
const PL = 1738, PT = 207, PR = 2667, PB = 1192;
const LINE_ANGLE = Math.atan2(-(PB - PT) / 2, (PR - PL) / 3);
const LABEL_DEG = -56;

const isMajor = (v: number) => Math.abs(Math.log10(v) - Math.round(Math.log10(v))) < 1e-6;
const expOf = (v: number) => String(Math.round(Math.log10(v)));

const TickBottom = (props: any) => {
  const { x, y, payload } = props;
  const v = payload.value;
  const major = isMajor(v);
  return (
    <g>
      <line x1={x} y1={y} x2={x} y2={y - (major ? 15 : 10)} stroke={INK} strokeWidth={1.3} />
      {major && (
        <text x={x} y={y + 54} textAnchor="middle" fontSize={35} fill={INK}>
          10<tspan dy={-15} fontSize={22}>{expOf(v)}</tspan>
        </text>
      )}
    </g>
  );
};
const TickTop = (props: any) => {
  const { x, y, payload } = props;
  const major = isMajor(payload.value);
  return <line x1={x} y1={y} x2={x} y2={y + (major ? 15 : 10)} stroke={INK} strokeWidth={1.3} />;
};
const TickLeft = (props: any) => {
  const { x, y, payload } = props;
  const v = payload.value;
  const major = isMajor(v);
  return (
    <g>
      <line x1={x} y1={y} x2={x + 7} y2={y} stroke={INK} strokeWidth={1.3} />
      {major && (
        <text x={x - 14} y={y + 13} textAnchor="end" fontSize={35} fill={INK}>
          10<tspan dy={-15} fontSize={22}>{expOf(v)}</tspan>
        </text>
      )}
    </g>
  );
};
const TickRight = (props: any) => {
  const { x, y } = props;
  return <line x1={x} y1={y} x2={x - 7} y2={y} stroke={INK} strokeWidth={1.3} />;
};

const KinPoint = (props: any) => {
  const { cx, cy, payload } = props;
  return (
    <g>
      <circle cx={cx} cy={cy} r={13.5} fill={KGREEN} />
      <text x={cx + 35} y={cy + 12} fontSize={36} fill={INK}>{payload.name}</text>
    </g>
  );
};

const makeKdMark = (label: string) => (props: any) => {
  const { cx, cy } = props;
  const ux = Math.cos(LINE_ANGLE), uy = Math.sin(LINE_ANGLE);
  const tx = cx + 20 * ux, ty = cy + 20 * uy;
  const arm = (sgn: number) => {
    const a = LINE_ANGLE + Math.PI + sgn * 0.6;
    return `${tx + 11 * Math.cos(a)},${ty + 11 * Math.sin(a)}`;
  };
  const lx = tx + 2 * ux - 5, ly = ty + 2 * uy - 2;
  return (
    <g>
      <line x1={cx} y1={cy} x2={tx} y2={ty} stroke={KGREEN} strokeWidth={2} strokeDasharray="5 4" />
      <polyline points={`${arm(1)} ${tx},${ty} ${arm(-1)}`} fill="none" stroke={KGREEN} strokeWidth={2} />
      <text transform={`translate(${lx},${ly}) rotate(${LABEL_DEG})`} fontSize={35} fill={INK}>
        <tspan fontStyle="italic">K</tspan>
        <tspan fontStyle="italic" fontSize={22} dy={8}>D</tspan>
        <tspan dy={-8}> = 10</tspan>
        <tspan fontSize={22} dy={-15}>{label}</tspan>
        <tspan dy={15}> M</tspan>
      </text>
    </g>
  );
};

const kinData = kinNames.map((name, i) => ({ name, kd: kdValues[i], ka: kaValues[i] }));

function KineticChart() {
  return (
    <div style={{ position: 'absolute', left: BIG_LEFT, top: 0 }}>
      <ScatterChart width={1200} height={1334} margin={{ top: PT - 1, right: BIG_LEFT + 1200 - PR - 1, bottom: 1334 - PB - 100, left: 0 }}>
        <XAxis xAxisId="b" type="number" dataKey="kd" scale="log" domain={[KD_MIN, KD_MAX]} ticks={kdTicks}
          allowDataOverflow interval={0} height={100} tickSize={0} tickMargin={0} tickLine={false}
          axisLine={{ stroke: INK, strokeWidth: 3 }} tick={TickBottom} />
        <XAxis xAxisId="t" orientation="top" type="number" dataKey="kd" scale="log" domain={[KD_MIN, KD_MAX]} ticks={kdTicks}
          allowDataOverflow interval={0} height={1} tickSize={0} tickMargin={0} tickLine={false}
          axisLine={{ stroke: INK, strokeWidth: 3 }} tick={TickTop} />
        <YAxis yAxisId="l" type="number" dataKey="ka" scale="log" domain={[KA_MIN, KA_MAX]} ticks={kaTicks}
          allowDataOverflow interval={0} width={PL - BIG_LEFT} tickSize={0} tickMargin={0} tickLine={false}
          axisLine={{ stroke: INK, strokeWidth: 1.5 }} tick={TickLeft} />
        <YAxis yAxisId="r" orientation="right" type="number" dataKey="ka" scale="log" domain={[KA_MIN, KA_MAX]} ticks={kaTicks}
          allowDataOverflow interval={0} width={1} tickSize={0} tickMargin={0} tickLine={false}
          axisLine={{ stroke: INK, strokeWidth: 1.5 }} tick={TickRight} />
        <ReferenceLine xAxisId="b" yAxisId="l" x={0.01} stroke="#c4c4c4" strokeWidth={1.5} />
        <ReferenceLine xAxisId="b" yAxisId="l" x={0.1} stroke="#c4c4c4" strokeWidth={1.5} />
        <ReferenceLine xAxisId="b" yAxisId="l" y={1e6} stroke="#c4c4c4" strokeWidth={1.5} />
        {kdConstants.map((K, i) => {
          const x0 = Math.max(KD_MIN, K * KA_MIN), x1 = Math.min(KD_MAX, K * KA_MAX);
          return (
            <ReferenceLine key={'kl' + i} xAxisId="b" yAxisId="l" segment={[{ x: x0, y: x0 / K }, { x: x1, y: x1 / K }]}
              stroke={KGREEN} strokeWidth={2} strokeDasharray="5 4" />
          );
        })}
        {kdConstants.map((K, i) => {
          const x1 = Math.min(KD_MAX, K * KA_MAX);
          return (
            <ReferenceDot key={'kd' + i} xAxisId="b" yAxisId="l" x={x1} y={x1 / K} r={0}
              shape={makeKdMark(kdConstantLabels[i])} />
          );
        })}
        <Scatter xAxisId="t" yAxisId="r" data={kinData} shape={() => <g />} isAnimationActive={false} />
        <Scatter xAxisId="b" yAxisId="l" data={kinData} shape={KinPoint} isAnimationActive={false} />
      </ScatterChart>
    </div>
  );
}

export default function App() {
  return (
    <div style={{ position: 'absolute', left: 0, top: 0, width: 2800, height: 1334, overflow: 'hidden', background: '#fff', fontFamily: FONT, color: INK }}>
      {panels.map((p, i) => <Panel key={i} p={p} />)}
      <KineticChart />
      <svg width={2800} height={1334} style={{ position: 'absolute', left: 0, top: 0, pointerEvents: 'none', fontFamily: FONT }}>
        {panels.map((p, i) => (
          <g key={'lab' + i}>
            <text x={p.titleX} y={p.titleY} textAnchor="middle" dominantBaseline="central" fontSize={40} fill={INK}>{p.title}</text>
            <text x={p.left + p.width / 2} y={p.top + p.height + 76} textAnchor="middle" dominantBaseline="central" fontSize={27} fill={INK}>Time (s)</text>
            <text transform={`translate(${p.left - 84},${p.top + p.height / 2}) rotate(-90)`} textAnchor="middle"
              dominantBaseline="central" fontSize={26} fill={INK}>Response (RU)</text>
          </g>
        ))}
        <text x={1183} y={1010} fontSize={35} fill={INK}>Kinetic analysis with</text>
        <text x={1183} y={1053} fontSize={35} fill={INK}>
          corresponding k<tspan fontSize={22} dy={7}>a</tspan><tspan dy={-7}>/k</tspan><tspan fontSize={22} dy={7}>d</tspan>
        </text>
        <text x={1183} y={1097} fontSize={35} fill={INK}>chart</text>

        <text x={1633} y={160} fontSize={31} fill={INK}>
          <tspan fontStyle="italic">k</tspan><tspan fontSize={20} dy={7}>a</tspan>
          <tspan dy={-7}> (M</tspan><tspan fontSize={20} dy={-13}>-1</tspan>
          <tspan dy={13}> s</tspan><tspan fontSize={20} dy={-13}>-1</tspan><tspan dy={13}>)</tspan>
        </text>
        <text x={2202} y={1274} textAnchor="middle" fontSize={32} fill={INK}>
          <tspan fontStyle="italic">k</tspan><tspan fontSize={20} dy={7}>d</tspan>
          <tspan dy={-7}> (s</tspan><tspan fontSize={20} dy={-13}>-1</tspan><tspan dy={13}>)</tspan>
        </text>

        <line x1={2727} y1={1186} x2={2727} y2={910} stroke={KGREEN} strokeWidth={3} />
        <polyline points="2712,930 2727,908 2742,930" fill="none" stroke={KGREEN} strokeWidth={3} />
        <text transform="translate(2773,1063) rotate(-90)" textAnchor="middle" dominantBaseline="central"
          fontSize={33} fontWeight={700} fill={KGREEN}>Recognition</text>
        <line x1={2686} y1={1284} x2={2410} y2={1284} stroke={KGREEN} strokeWidth={3} />
        <polyline points="2424,1266 2408,1284 2424,1302" fill="none" stroke={KGREEN} strokeWidth={3} />
        <text x={2592} y={1340} textAnchor="middle" fontSize={33} fontWeight={700} fill={KGREEN}>Stability</text>
      </svg>
    </div>
  );
}
